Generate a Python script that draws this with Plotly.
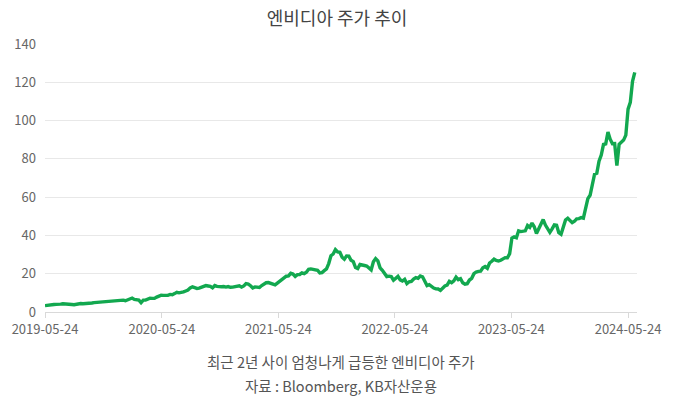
import pandas as pd
import plotly.graph_objects as go

# Weekly closes (USD, split-adjusted)
p2019 = [3.3, 3.35,
         3.5, 3.6, 3.9, 4.0,
         3.9, 4.1, 4.3, 4.3,
         4.0, 3.9, 3.9, 3.8, 4.1,
         4.3, 4.4, 4.3, 4.3,
         4.4, 4.5, 4.7, 4.9,
         5.0, 5.1, 5.2, 5.1, 5.3,
         5.2, 5.5, 5.8, 5.9]
p2020 = [5.9, 6.1, 6.1, 6.2, 5.9,
         6.3, 7.1, 7.3, 6.6,
         6.6, 6.2, 4.9, 6.2,
         6.2, 6.7, 7.2, 7.1,
         7.1, 7.8, 8.5, 8.8, 8.7,
         8.6, 8.7, 9.2, 9.0,
         9.6, 10.3, 10.0, 10.1, 10.5,
         11.0, 11.5, 12.6, 13.1,
         12.7, 12.3, 12.5, 12.9,
         13.1, 13.8, 13.6, 13.4, 12.6,
         13.8, 13.4, 13.2, 13.2,
         13.3, 13.0, 13.3, 12.9]
p2021 = [13.0, 13.2, 13.1, 13.7, 13.0,
         13.6, 14.8, 14.6, 13.7,
         12.6, 13.1, 13.0, 12.8,
         13.8, 14.4, 15.3, 15.4, 15.0,
         14.5, 14.2, 15.1, 16.0,
         17.2, 17.6, 18.7, 18.9,
         20.2, 19.8, 18.6, 19.5, 19.6,
         20.4, 20.0, 20.8, 22.3,
         22.5, 22.4, 21.9, 21.8,
         20.4, 20.6, 21.6, 22.5, 25.3,
         29.4, 30.3, 32.6, 31.4,
         31.2, 28.6, 27.6, 29.3, 29.2]
p2022 = [27.0, 26.3, 23.2, 22.7,
         24.8, 24.7, 24.3, 24.0,
         23.0, 22.0, 26.2, 27.9,
         26.7, 23.1, 21.8, 20.0, 18.5,
         18.7, 18.5, 16.6, 17.6,
         18.6, 16.8, 16.2, 17.1,
         14.8, 15.8, 16.0, 17.2, 18.0,
         17.6, 18.8, 18.4, 16.2,
         13.8, 14.3, 13.2, 12.5, 12.1,
         12.0, 11.3, 12.4, 13.6,
         14.0, 16.0, 15.3, 16.3,
         18.2, 16.9, 17.4, 15.3, 14.5]
p2023 = [14.8, 16.7, 17.6, 20.0,
         20.9, 21.2, 21.3, 23.1,
         23.7, 22.8, 25.6, 26.5, 27.6,
         26.9, 26.6, 27.0, 27.5,
         28.4, 28.3, 30.5, 38.6,
         39.2, 38.8, 42.4, 42.0, 42.2,
         42.4, 45.2, 44.2, 46.5,
         44.5, 41.0, 43.2, 45.9,
         48.3, 45.4, 43.8, 41.6, 43.4,
         45.5, 45.3, 41.4, 40.6,
         44.8, 48.1, 49.0, 47.7,
         46.7, 47.4, 48.7, 48.8, 49.3]
p2024 = [49.0, 54.5, 59.2, 61.0,
         66.0, 72.0, 72.5, 78.8,
         82.0, 87.5, 87.8, 94.0, 90.3,
         87.9, 88.0, 76.5, 87.6,
         88.6, 89.8, 92.4, 106.0, 109.5,
         120.5, 125.2]

prices = p2019 + p2020 + p2021 + p2022 + p2023 + p2024
dates = pd.date_range("2019-05-24", periods=len(prices), freq="W-FRI")

tick_dates = ["2019-05-24", "2020-05-24", "2021-05-24",
              "2022-05-24", "2023-05-24", "2024-05-24"]
y_ticks = [0, 20, 40, 60, 80, 100, 120, 140]

title_text = "엔비디아 주가 추이"
caption_1 = "최근 2년 사이 엄청나게 급등한 엔비디아 주가"
caption_2 = "자료 : Bloomberg, KB자산운용"

FONT = "Noto Sans CJK KR"

fig = go.Figure()
fig.add_trace(go.Scatter(
    x=dates, y=prices, mode="lines",
    line=dict(color="#12a84f", width=3.4),
    hoverinfo="x+y", showlegend=False,
))

fig.update_layout(
    width=674, height=399,
    margin=dict(l=40, r=37, t=44, b=87),
    paper_bgcolor="white", plot_bgcolor="white",
    font=dict(family=FONT, color="#666666", size=13),
    title=dict(text=title_text, x=0.5, xanchor="center", y=0.952, yanchor="middle",
               font=dict(family=FONT, size=18, color="#444444")),
    xaxis=dict(
        type="date",
        range=["2019-05-24", "2024-06-21"],
        tickvals=tick_dates, ticktext=tick_dates,
        showgrid=False, zeroline=False,
        showline=True, linecolor="#d9d9d9", linewidth=1,
        ticks="outside", ticklen=5, tickcolor="#d9d9d9",
        tickfont=dict(family=FONT, size=13, color="#666666"),
    ),
    yaxis=dict(
        range=[0, 140], tickvals=y_ticks,
        showgrid=True, gridcolor="#e8e8e8", gridwidth=1,
        zeroline=False, showline=False,
        ticks="", ticklabelstandoff=8,
        tickfont=dict(family=FONT, size=13, color="#666666"),
    ),
    annotations=[
        dict(text=caption_1, xref="paper", yref="paper", x=0.5, y=-0.183,
             xanchor="center", yanchor="middle", showarrow=False,
             font=dict(family=FONT, size=14.5, color="#555555")),
        dict(text=caption_2, xref="paper", yref="paper", x=0.5, y=-0.275,
             xanchor="center", yanchor="middle", showarrow=False,
             font=dict(family=FONT, size=14.5, color="#555555")),
    ],
)

fig.write_html("out.html",
               config={"displayModeBar": False},
               post_script="document.body.style.margin='0px';document.body.style.overflow='hidden';")
